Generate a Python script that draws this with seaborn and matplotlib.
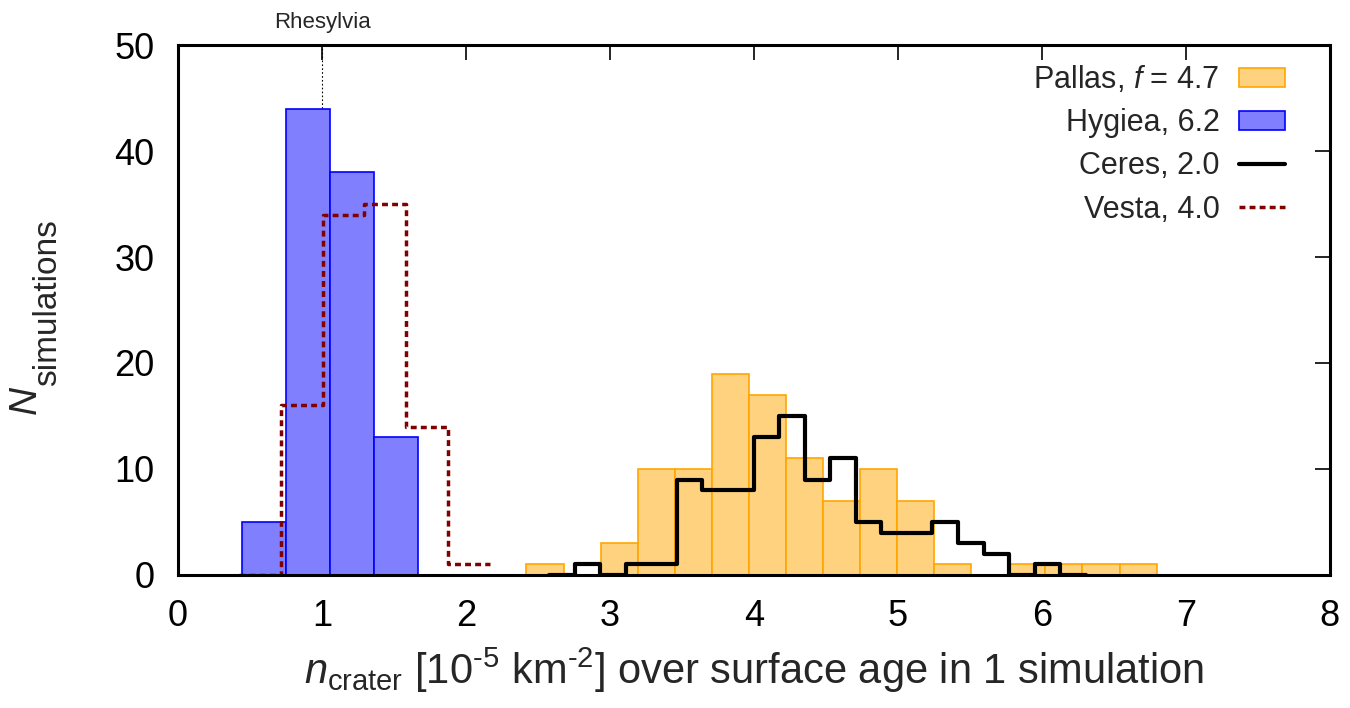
import numpy as np
import pandas as pd
import matplotlib
matplotlib.use("Agg")
import matplotlib.pyplot as plt
import seaborn as sns

# ---- data ----
hygiea_start, hygiea_width = 0.445, 0.306
hygiea_counts = [5, 44, 38, 13]

vesta_start, vesta_width = 0.715, 0.29
vesta_counts = [16, 34, 35, 14, 1]

pallas_start, pallas_width = 2.42, 0.2575
pallas_counts = [1, 0, 3, 10, 10, 19, 17, 11, 7, 10, 7, 1, 0, 1, 1, 1, 1]

ceres_start, ceres_width = 2.755, 0.1775
ceres_counts = [1, 0, 1, 1, 9, 8, 8, 13, 15, 9, 11, 5, 4, 4, 5, 3, 2, 0, 1]

legend_order = ["Pallas, $f$ = 4.7", "Hygiea, 6.2", "Ceres, 2.0", "Vesta, 4.0"]
x_ticks = [0, 1, 2, 3, 4, 5, 6, 7, 8]
y_ticks = [0, 10, 20, 30, 40, 50]
rhesylvia_x = 1.0


def frame(start, width, counts, pad_left=0, pad_right=0):
    counts = [0] * pad_left + list(counts) + [0] * pad_right
    s = start - pad_left * width
    edges = s + width * np.arange(len(counts) + 1)
    centers = (edges[:-1] + edges[1:]) / 2
    return pd.DataFrame({"x": centers, "w": counts}), [float(e) for e in edges]


sns.set_theme(style="white")
plt.rcParams["font.family"] = ["Liberation Sans", "DejaVu Sans"]
plt.rcParams["mathtext.fontset"] = "custom"
plt.rcParams["mathtext.rm"] = "Liberation Sans"
plt.rcParams["mathtext.it"] = "Liberation Sans:italic"
plt.rcParams["mathtext.sf"] = "Liberation Sans"

W, H = 1350, 708
fig = plt.figure(figsize=(W / 100, H / 100), dpi=100)
ax = fig.add_axes([0.1319, 0.1879, 0.8531, 0.7485])

# dotted Rhesylvia marker
ax.axvline(rhesylvia_x, color="black", linestyle=(0, (1.5, 2)), linewidth=0.8, zorder=0)

df, ed = frame(pallas_start, pallas_width, pallas_counts)
sns.histplot(data=df, x="x", weights="w", bins=ed, ax=ax,
             facecolor="#FFD280", edgecolor="#FFA500", alpha=1, linewidth=1.2,
             label=legend_order[0], zorder=1)

df, ed = frame(hygiea_start, hygiea_width, hygiea_counts)
sns.histplot(data=df, x="x", weights="w", bins=ed, ax=ax,
             facecolor="#8080FF", edgecolor="#0000FF", alpha=1, linewidth=1.2,
             label=legend_order[1], zorder=2)

df, ed = frame(ceres_start, ceres_width, ceres_counts, pad_left=1, pad_right=1)
sns.histplot(data=df, x="x", weights="w", bins=ed, ax=ax, element="step",
             fill=False, color="black", linewidth=3, label=legend_order[2], zorder=3)

df, ed = frame(vesta_start, vesta_width, vesta_counts, pad_left=1)
sns.histplot(data=df, x="x", weights="w", bins=ed, ax=ax, element="step",
             fill=False, color="#800000", linewidth=2.5, linestyle=(0, (1.7, 1.2)),
             label=legend_order[3], zorder=4)

ax.set_xlim(0, 8)
ax.set_ylim(0, 50)
ax.set_xticks(x_ticks)
ax.set_yticks(y_ticks)
ax.tick_params(axis="both", which="major", direction="in", length=11, width=1.2,
               top=True, right=True, labelsize=26, pad=17, colors="black")
for sp in ax.spines.values():
    sp.set_visible(True)
    sp.set_linewidth(2.2)
    sp.set_color("black")
    sp.set_zorder(10)

ax.set_xlabel(r"$n_{\mathrm{crater}}$ [10$^{\text{-5}}$ km$^{\text{-2}}$] over surface age in 1 simulation",
              fontsize=30, labelpad=9)
ax.set_ylabel("")

# y label: italic N with a large, lowered subscript
fig.text(36 / W, 1 - 414 / H, "N", rotation=90, rotation_mode="anchor",
         ha="left", va="baseline", fontsize=28, style="italic")
fig.text(56 / W, 1 - 386 / H, "simulations", rotation=90, rotation_mode="anchor",
         ha="left", va="baseline", fontsize=24)

sec = ax.secondary_xaxis("top")
sec.set_xticks([rhesylvia_x])
sec.set_xticklabels(["Rhesylvia"])
sec.tick_params(length=0, labelsize=16, pad=9)
for sp in sec.spines.values():
    sp.set_visible(False)

handles, labels = ax.get_legend_handles_labels()
lookup = dict(zip(labels, handles))
leg = ax.legend([lookup[l] for l in legend_order], legend_order,
                loc="upper right", frameon=False, fontsize=22, markerfirst=False,
                handlelength=1.5, handleheight=0.6, labelspacing=0.43,
                bbox_to_anchor=(0.972, 0.987), borderaxespad=0.0, handletextpad=0.65)

fig.savefig("out.png", dpi=100)
